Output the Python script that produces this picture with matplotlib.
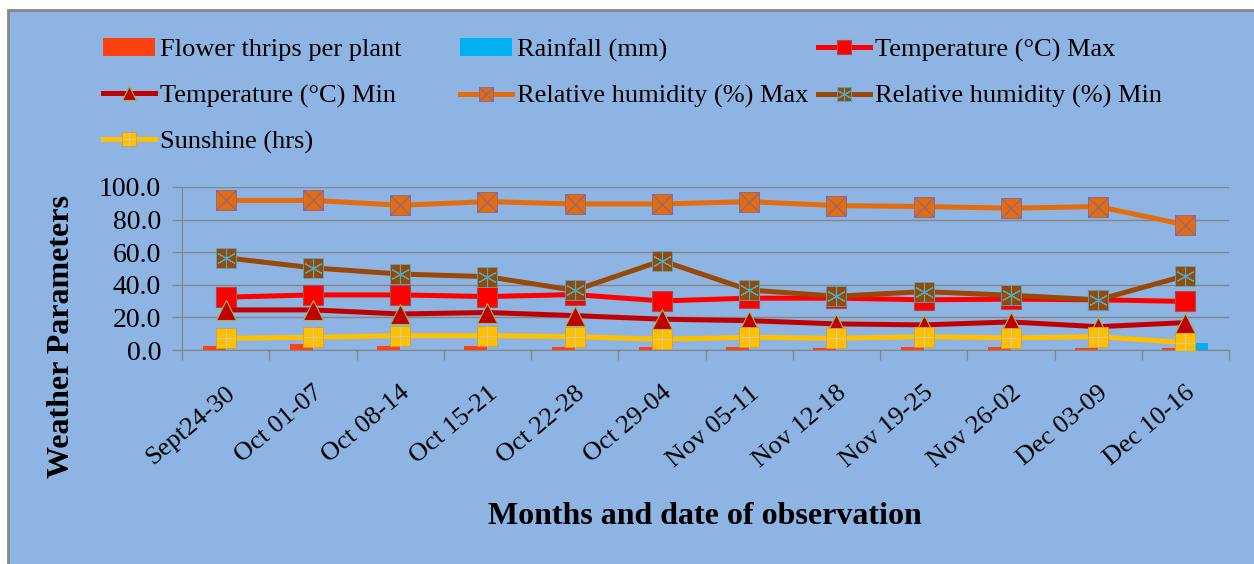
import numpy as np
import matplotlib.pyplot as plt
from matplotlib.patches import Rectangle

plt.rcParams['font.family'] = ['Liberation Serif', 'DejaVu Serif']

weeks = ['Sept24-30', 'Oct 01-07', 'Oct 08-14', 'Oct 15-21', 'Oct 22-28', 'Oct 29-04',
         'Nov 05-11', 'Nov 12-18', 'Nov 19-25', 'Nov 26-02', 'Dec 03-09', 'Dec 10-16']
thrips = [2.6, 3.4, 2.6, 2.6, 1.8, 1.8, 1.9, 1.1, 2.0, 2.0, 1.2, 1.0]
rain = [0, 0, 0, 0, 0, 0, 0, 0, 0, 0, 0, 4.5]
tmax = [32.4, 33.8, 33.8, 32.8, 34.0, 30.1, 31.8, 31.8, 30.8, 31.2, 30.8, 29.8]
tmin = [24.6, 24.6, 22.1, 23.0, 21.1, 18.9, 18.0, 16.0, 15.4, 17.2, 14.3, 16.8]
rhmax = [91.8, 91.8, 88.8, 91.0, 89.6, 89.6, 91.0, 88.6, 88.0, 87.0, 88.0, 76.8]
rhmin = [56.6, 50.4, 46.6, 45.0, 36.6, 54.8, 36.8, 33.0, 35.8, 33.6, 30.8, 45.6]
sunshine = [7.2, 7.8, 8.8, 8.8, 8.2, 6.6, 7.8, 7.2, 8.2, 7.4, 8.2, 4.5]

bg = '#8DB4E2'
grey = '#868686'

fig = plt.figure(figsize=(12.54, 5.64), dpi=100)
fig.patch.set_facecolor('white')
# chart area with border
fig.patches.append(Rectangle((8/1254, -0.01), 1, 1.01 - 10/564, transform=fig.transFigure,
                             facecolor=bg, edgecolor=grey, lw=2, zorder=-10))

ax = fig.add_axes([182/1254, 1 - 350/564, (1229 - 182)/1254, (350 - 187)/564])
ax.patch.set_alpha(0)

x = np.arange(len(weeks))
w = 0.265
b1 = ax.bar(x - w/2, thrips, w, color='#FF4010', zorder=2)
b2 = ax.bar(x + w/2, rain, w, color='#00B0F0', zorder=2)

lw = 3.6
ms = 14
l1, = ax.plot(x, tmax, color='#FF0000', lw=lw, marker='s', ms=ms, mfc='#FF0000', mec='#A05050', mew=0.8, zorder=3)
l2, = ax.plot(x, tmin, color='#C00000', lw=lw, marker='^', ms=ms, mfc='#C00000', mec='#9BBB59', mew=0.8, zorder=3)
l3, = ax.plot(x, rhmax, color='#E46C0A', lw=lw, marker='s', ms=ms, mfc='#E46C0A', mec='#8064A2', mew=0.6, zorder=3)
l3x, = ax.plot(x, rhmax, ls='none', marker='x', ms=ms, mec='#8064A2', mew=0.8, zorder=3)
l4, = ax.plot(x, rhmin, color='#984807', lw=lw, marker='s', ms=ms, mfc='#984807', mec='#4BACC6', mew=0.6, zorder=3)
l4x, = ax.plot(x, rhmin, ls='none', marker=(6, 2, 0), ms=ms, mec='#4BACC6', mew=0.8, zorder=3)
l5, = ax.plot(x, sunshine, color='#FFC000', lw=lw, marker='s', ms=ms, mfc='#FFC000', mec='#C0A060', mew=0.6, zorder=3)
l5x, = ax.plot(x, sunshine, ls='none', marker='+', ms=ms, mec='#D8C8A0', mew=0.8, zorder=3)

ax.set_xlim(-0.5, len(weeks) - 0.5)
ax.set_ylim(0, 100)
ax.set_yticks(np.arange(0, 101, 20))
ax.set_yticklabels(['%.1f' % v for v in np.arange(0, 101, 20)], fontsize=20)
ax.yaxis.grid(True, color=grey, lw=1)
ax.set_axisbelow(True)
ax.set_xticks(x)
ax.set_xticklabels(weeks, rotation=40, ha='right', va='top', rotation_mode='anchor', fontsize=19)
ax.set_xticks(np.arange(-0.5, len(weeks)), minor=True)
ax.tick_params(axis='x', which='major', length=0, pad=23)
ax.tick_params(axis='x', which='minor', length=7, color=grey, width=1)
ax.tick_params(axis='y', length=7, color=grey, width=1, pad=8)
for s in ['top', 'right']:
    ax.spines[s].set_visible(False)
for s in ['left', 'bottom']:
    ax.spines[s].set_color(grey)

fig.text(62/1254, 1 - 337/564, 'Weather Parameters', fontsize=23, fontweight='bold',
         rotation=90, ha='center', va='center')
fig.text(705/1254, 1 - 517/564, 'Months and date of observation', fontsize=23,
         fontweight='bold', ha='center', va='center')

cols = [
    ([b1, l2, (l5, l5x)], ['Flower thrips per plant', 'Temperature (°C) Min', 'Sunshine (hrs)'], 103),
    ([b2, (l3, l3x)], ['Rainfall (mm)', 'Relative humidity (%) Max'], 460),
    ([l1, (l4, l4x)], ['Temperature (°C) Max', 'Relative humidity (%) Min'], 818),
]
for hs, labs, x0 in cols:
    fig.legend(hs, labs, loc='upper left', bbox_to_anchor=(x0/1254, 1 - 38/564),
               frameon=False, fontsize=19, handlelength=1.97, handletextpad=0.2,
               borderpad=0, borderaxespad=0, labelspacing=0.85, markerscale=0.75)

fig.savefig('out.png', dpi=100, facecolor=fig.get_facecolor())
